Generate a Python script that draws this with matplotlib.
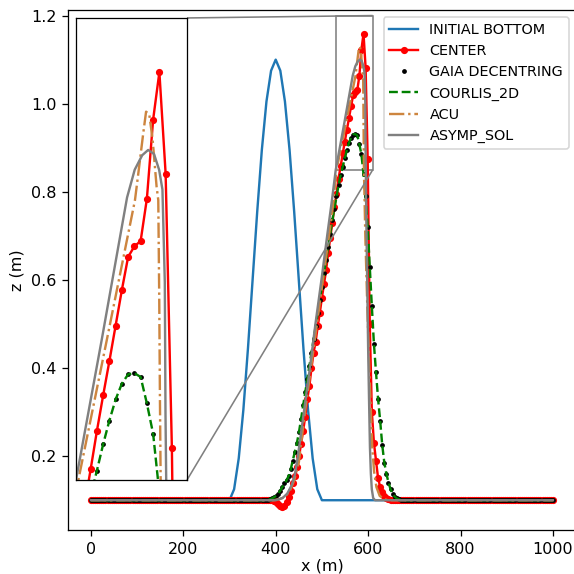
import matplotlib
matplotlib.use('Agg')
import matplotlib.pyplot as plt
import numpy as np
from mpl_toolkits.axes_grid1.inset_locator import mark_inset

# mesh nodes (dx ~ 4.5 m)
mesh = np.linspace(0, 1000, 223)
base = 0.1

# initial bottom
x_init = [0, 300, 310, 320, 330, 340, 350, 360, 370, 380, 390, 400,
          410, 420, 430, 440, 450, 460, 470, 480, 490, 500, 1000]
z_init = [0.1, 0.1, 0.125, 0.195, 0.305, 0.445, 0.6, 0.755, 0.895, 1.005, 1.075, 1.1,
          1.075, 1.005, 0.895, 0.755, 0.6, 0.445, 0.305, 0.195, 0.125, 0.1, 0.1]

# CENTER, nodes 88..144
k_center = 88
center_peak = [0.098, 0.095, 0.091, 0.088, 0.085, 0.087, 0.096, 0.108, 0.12, 0.138,
               0.155, 0.175, 0.2, 0.228, 0.258, 0.29, 0.33, 0.36, 0.40, 0.435,
               0.46, 0.495, 0.525, 0.56, 0.59, 0.622, 0.66, 0.695, 0.73, 0.765,
               0.795, 0.83, 0.858, 0.887, 0.914, 0.94, 0.967, 0.994, 1.019, 1.027,
               1.031, 1.063, 1.123, 1.159, 1.082, 0.874, 0.50, 0.30, 0.23, 0.19,
               0.15, 0.13, 0.118, 0.11, 0.105, 0.102, 0.1]

# GAIA DECENTRING / COURLIS_2D, nodes 84..149
k_gaia = 84
gaia_peak = [0.1, 0.1, 0.102, 0.104, 0.107, 0.11, 0.115, 0.122, 0.13, 0.138,
             0.145, 0.155, 0.17, 0.19, 0.21, 0.23, 0.255, 0.285, 0.315, 0.345,
             0.375, 0.405, 0.435, 0.465, 0.495, 0.525, 0.555, 0.585, 0.615, 0.645,
             0.675, 0.705, 0.735, 0.762, 0.79, 0.815, 0.838, 0.857, 0.877, 0.895,
             0.911, 0.923, 0.930, 0.931, 0.928, 0.908, 0.885, 0.84, 0.79, 0.72,
             0.63, 0.54, 0.455, 0.39, 0.33, 0.28, 0.225, 0.185, 0.16, 0.14,
             0.125, 0.115, 0.108, 0.104, 0.102, 0.1]
courlis_peak = list(gaia_peak)

# ACU
x_acu = [0, 395, 410, 420, 430, 440, 450, 462, 475, 488, 501, 514, 523, 531.7, 552,
         572.5, 575, 578.5, 580.5, 582.8, 585.2, 588.1, 589.3, 590, 590.5, 591, 594,
         598, 602, 606, 609, 613, 618, 625, 635, 645, 1000]
z_acu = [0.1, 0.1, 0.103, 0.108, 0.12, 0.145, 0.185, 0.29, 0.39, 0.49, 0.59, 0.69, 0.76,
         0.85, 0.955, 1.062, 1.083, 1.113, 1.129, 1.127, 1.108, 1.072, 1.062, 0.986,
         0.91, 0.85, 0.7, 0.55, 0.42, 0.3, 0.22, 0.165, 0.13, 0.11, 0.102, 0.1, 0.1]

# ASYMP_SOL
x_asymp = [0, 400, 415, 425, 435, 442, 448, 461, 474, 486, 499, 512, 521, 530, 548.5,
           566.8, 572.3, 577.7, 582, 586.2, 589.9, 592.3, 594, 594.5, 596, 598, 600,
           602, 604, 606, 608, 611, 615, 1000]
z_asymp = [0.1, 0.1, 0.105, 0.115, 0.135, 0.16, 0.2, 0.3, 0.4, 0.5, 0.6, 0.705, 0.775,
           0.85, 0.956, 1.064, 1.085, 1.096, 1.1, 1.097, 1.085, 1.07, 1.0, 0.9, 0.75,
           0.6, 0.45, 0.33, 0.22, 0.16, 0.125, 0.105, 0.1, 0.1]

center_z = np.full(mesh.size, base)
center_z[k_center:k_center + len(center_peak)] = center_peak
gaia_z = np.full(mesh.size, base)
gaia_z[k_gaia:k_gaia + len(gaia_peak)] = gaia_peak
courlis_z = np.full(mesh.size, base)
courlis_z[k_gaia:k_gaia + len(courlis_peak)] = courlis_peak


def draw(a, label=True):
    a.plot(x_init, z_init, color='C0', label='INITIAL BOTTOM' if label else None)
    a.plot(mesh, center_z, '-o', color='red', markersize=3.5, label='CENTER' if label else None)
    a.plot(mesh, gaia_z, 'k.', markersize=4, label='GAIA DECENTRING' if label else None)
    a.plot(mesh, courlis_z, '--', color='green', label='COURLIS_2D' if label else None)
    a.plot(x_acu, z_acu, '-.', color='peru', label='ACU' if label else None)
    a.plot(x_asymp, z_asymp, '-', color='grey', label='ASYMP_SOL' if label else None)


fig = plt.figure(figsize=(5, 5), dpi=114.8)
ax = fig.add_axes([0.1181, 0.0758, 0.8854, 0.9068])
draw(ax)
ax.set_xlabel('x (m)', labelpad=1)
ax.set_ylabel('z (m)')
ax.legend(loc='upper right', fontsize=9)

axins = fig.add_axes([0.1324, 0.1638, 0.1934, 0.8049])
draw(axins, label=False)
axins.set_xlim(530, 610)
axins.set_ylim(0.85, 1.2)
axins.set_xticks([])
axins.set_yticks([])
for s in axins.spines.values():
    s.set_color('black')
mark_inset(ax, axins, loc1=1, loc2=4, fc='none', ec='0.5')

fig.savefig('out.png', dpi=114.8)
